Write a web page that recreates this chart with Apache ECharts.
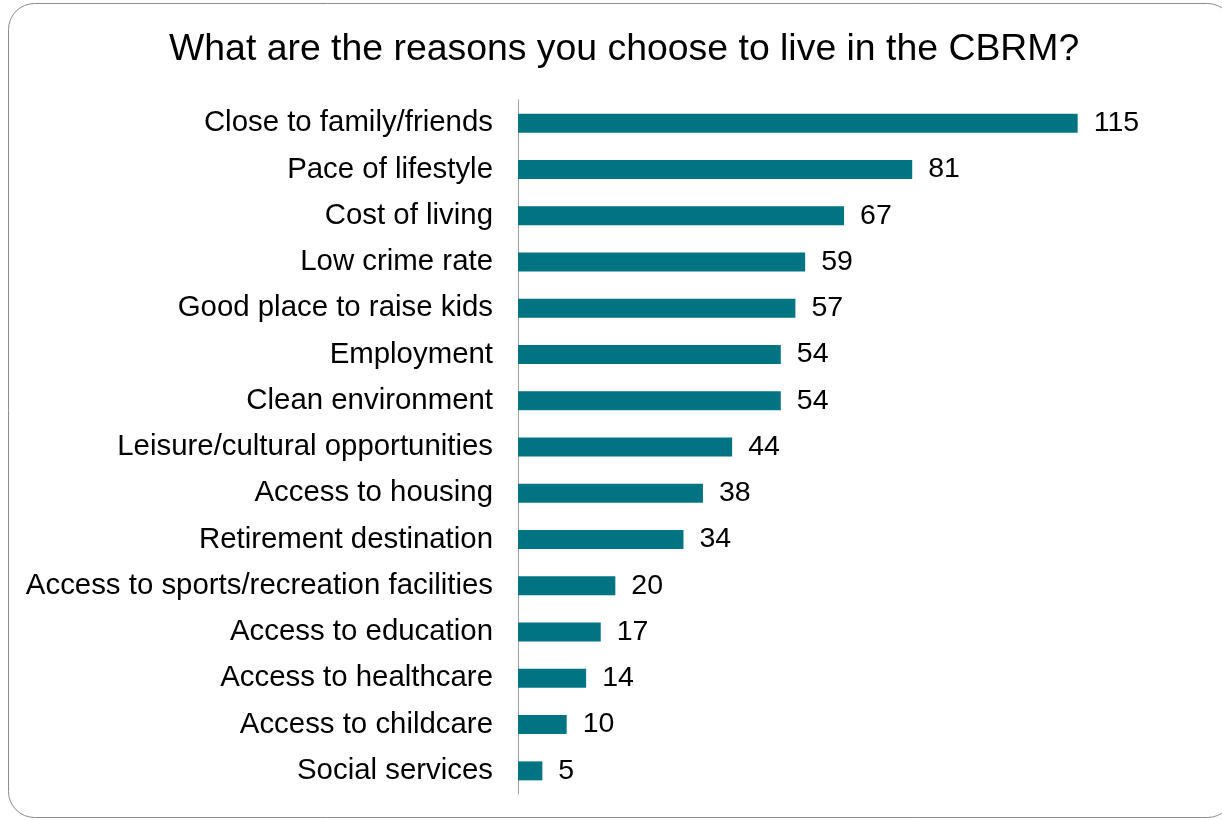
<!DOCTYPE html>
<html>
<head>
<meta charset="utf-8">
<script src="https://cdn.jsdelivr.net/npm/echarts@6/dist/echarts.min.js"></script>
<style>
html,body{margin:0;padding:0;background:#fff;}
#chart{width:1222px;height:820px;}
</style>
</head>
<body>
<div id="chart"></div>
<script>
const titleText = 'What are the reasons you choose to live in the CBRM?';
const categories = [
  'Close to family/friends',
  'Pace of lifestyle',
  'Cost of living',
  'Low crime rate',
  'Good place to raise kids',
  'Employment',
  'Clean environment',
  'Leisure/cultural opportunities',
  'Access to housing',
  'Retirement destination',
  'Access to sports/recreation facilities',
  'Access to education',
  'Access to healthcare',
  'Access to childcare',
  'Social services'
];
const counts = [115, 81, 67, 59, 57, 54, 54, 44, 38, 34, 20, 17, 14, 10, 5];

const chart = echarts.init(document.getElementById('chart'), null, {renderer: 'canvas'});
chart.setOption({
  animation: false,
  backgroundColor: '#ffffff',
  textStyle: {fontFamily: 'Liberation Sans, Arial, sans-serif'},
  graphic: [{
    type: 'rect',
    silent: true,
    shape: {x: 8.5, y: 3.5, width: 1225, height: 814, r: 26},
    style: {fill: 'none', stroke: '#8c8c8c', lineWidth: 1}
  }],
  title: {
    text: titleText,
    left: 164,
    top: 26,
    textStyle: {fontSize: 37.4, fontWeight: 'normal', color: '#000', fontFamily: 'Liberation Sans, Arial, sans-serif'}
  },
  grid: {left: 518, top: 100, width: 584, height: 694, containLabel: false},
  xAxis: {
    type: 'value',
    min: 0,
    max: 120,
    show: false
  },
  yAxis: {
    type: 'category',
    data: categories,
    inverse: true,
    axisLine: {show: true, lineStyle: {color: '#a0a0a0', width: 1}},
    axisTick: {show: false},
    axisLabel: {
      margin: 25,
      fontSize: 29.4,
      color: '#000',
      fontFamily: 'Liberation Sans, Arial, sans-serif'
    }
  },
  series: [{
    type: 'bar',
    data: counts,
    barWidth: 19,
    itemStyle: {color: '#007482'},
    label: {
      show: true,
      position: 'right',
      distance: 16,
      fontSize: 28.5,
      color: '#000',
      fontFamily: 'Liberation Sans, Arial, sans-serif'
    }
  }]
});
</script>
</body>
</html>
